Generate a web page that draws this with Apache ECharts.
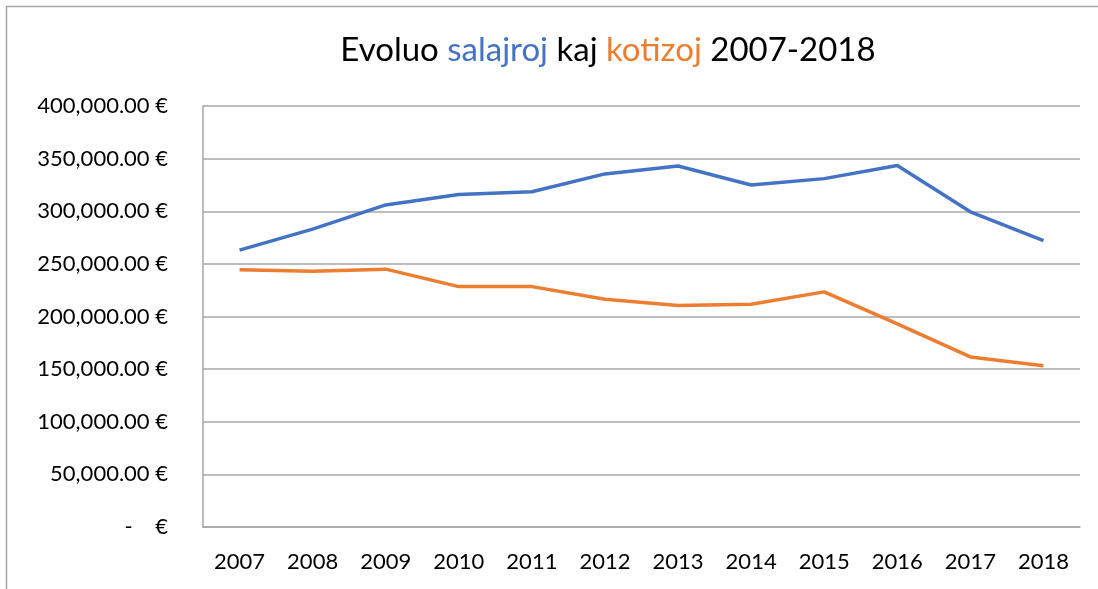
<!DOCTYPE html>
<html>
<head>
<meta charset="utf-8">
<script src="https://cdn.jsdelivr.net/npm/echarts@6/dist/echarts.min.js"></script>
<style>
  html, body { margin: 0; padding: 0; background: #fff; }
  #chart { width: 1098px; height: 589px; }
</style>
</head>
<body>
<div id="chart"></div>
<script>
const years = ["2007", "2008", "2009", "2010", "2011", "2012", "2013", "2014", "2015", "2016", "2017", "2018"];
const salajroj = [263000, 283000, 306000, 316000, 318500, 335500, 343000, 325000, 331000, 343500, 299500, 272000];
const kotizoj = [244300, 243000, 245000, 228400, 228400, 216400, 210400, 211700, 223400, 193000, 161600, 153300];

const colors = ["#4472C4", "#ED7D31"];
const font = "Lato, 'Open Sans', sans-serif";

const chart = echarts.init(document.getElementById("chart"));

chart.setOption({
  color: colors,
  animation: false,
  graphic: [
    {
      type: "rect",
      shape: { x: 6.5, y: 6.5, width: 1200, height: 700 },
      style: { fill: null, stroke: "#A6A6A6", lineWidth: 1.5 },
      silent: true,
    },
  ],
  title: {
    text: "Evoluo {b|salajroj} kaj {o|kotizoj} 2007-2018",
    left: 603,
    textAlign: "center",
    top: 29,
    textStyle: {
      fontFamily: font,
      fontSize: 33,
      fontWeight: "normal",
      color: "#000",
      rich: {
        b: { color: colors[0], fontFamily: font, fontSize: 33 },
        o: { color: colors[1], fontFamily: font, fontSize: 33 },
      },
    },
  },
  grid: {
    left: 203,
    right: 18,
    top: 106,
    bottom: 62,
    containLabel: false,
  },
  xAxis: {
    type: "category",
    data: years,
    boundaryGap: true,
    axisLine: { show: true, lineStyle: { color: "#A6A6A6", width: 1.5 } },
    axisTick: { show: false },
    axisLabel: {
      color: "#000",
      fontFamily: font,
      fontSize: 22,
      margin: 24,
    },
  },
  yAxis: {
    type: "value",
    min: 0,
    max: 400000,
    interval: 50000,
    axisLine: { show: true, lineStyle: { color: "#A6A6A6", width: 1.5 } },
    axisTick: { show: false },
    splitLine: { lineStyle: { color: "#A6A6A6", width: 1.5 } },
    axisLabel: {
      color: "#000",
      fontFamily: font,
      fontSize: 22,
      margin: 35,
      formatter: (v) =>
        v === 0
          ? "-    €"
          : v.toLocaleString("en-US", { minimumFractionDigits: 2, maximumFractionDigits: 2 }) + " €",
    },
  },
  series: [
    {
      name: "salajroj",
      type: "line",
      data: salajroj,
      symbol: "none",
      lineStyle: { width: 3.5 },
    },
    {
      name: "kotizoj",
      type: "line",
      data: kotizoj,
      symbol: "none",
      lineStyle: { width: 3.5 },
    },
  ],
});
</script>
</body>
</html>
